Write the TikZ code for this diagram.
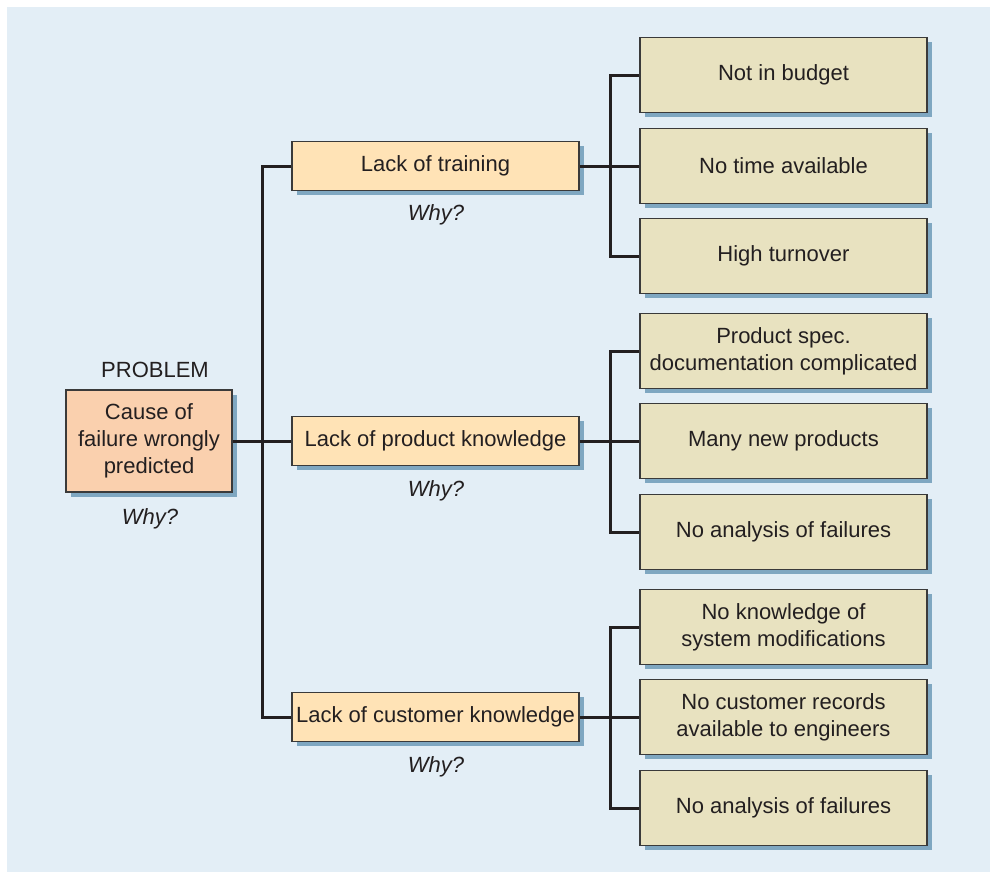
\documentclass[tikz,border=0pt]{standalone}
\usepackage{fontspec}
\setmainfont{Liberation Sans}
\usetikzlibrary{shadows}
\definecolor{bgblue}{HTML}{E3EEF6}
\definecolor{shadowblue}{HTML}{7FA7C1}
\definecolor{peach}{HTML}{FAD0AE}
\definecolor{lightorange}{HTML}{FFE3B6}
\definecolor{beige}{HTML}{E8E2C0}
\definecolor{ink}{HTML}{231F20}
\definecolor{edge}{HTML}{3A3A3A}
\begin{document}
\begin{tikzpicture}[x=1pt,y=-1pt,
  every node/.style={text=ink,font=\fontsize{22}{26.8}\selectfont,inner sep=0pt},
  boxbase/.style={draw=edge,line width=1.8pt,align=center,
    drop shadow={shadow xshift=4.5pt,shadow yshift=-4.5pt,fill=shadowblue,opacity=1}},
  probbox/.style={boxbase,fill=peach,minimum width=166pt,minimum height=102pt},
  midbox/.style={boxbase,fill=lightorange,minimum width=287pt,minimum height=49pt},
  leafbox/.style={boxbase,fill=beige,minimum width=287pt,minimum height=75pt},
  whytext/.style={font=\fontsize{22}{26.8}\selectfont\itshape},
  conn/.style={draw=ink,line width=3pt}]
\useasboundingbox (0,0) rectangle (992,873);
\fill[bgblue] (7,7) rectangle (990,872);

\coordinate (trunkA) at (262,166);
\coordinate (trunkB) at (262,717);
\coordinate (brA1) at (610,75);
\coordinate (brA3) at (610,256);
\coordinate (brB1) at (610,351);
\coordinate (brB3) at (610,532);
\coordinate (brC1) at (610,627);
\coordinate (brC3) at (610,808);

% problem
\node[probbox] (p) at (149,441) {Cause of\\failure wrongly\\predicted};
\node (probtitle) at (155,370) {PROBLEM};
\node[whytext] (pwhy) at (150,519) {Why?};

% middle level
\node[midbox] (m1) at (435.5,166) {Lack of training};
\node[midbox] (m2) at (435.5,441) {Lack of product knowledge};
\node[midbox] (m3) at (435.5,717) {Lack of customer knowledge};
\node[whytext] (w1) at (436,215) {Why?};
\node[whytext] (w2) at (436,491) {Why?};
\node[whytext] (w3) at (436,767) {Why?};

% leaves
\node[leafbox] (a1) at (783.5,75) {Not in budget};
\node[leafbox] (a2) at (783.5,166) {No time available};
\node[leafbox] (a3) at (783.5,256) {High turnover};
\node[leafbox] (b1) at (783.5,351) {Product spec.\\documentation complicated};
\node[leafbox] (b2) at (783.5,441) {Many new products};
\node[leafbox] (b3) at (783.5,532) {No analysis of failures};
\node[leafbox] (c1) at (783.5,627) {No knowledge of\\system modifications};
\node[leafbox] (c2) at (783.5,717) {No customer records\\available to engineers};
\node[leafbox] (c3) at (783.5,808) {No analysis of failures};

% connectors
\draw[conn] (m1.west) -- (trunkA) -- (trunkB) -- (m3.west);
\draw[conn] (p.east) -- (m2.west);

\draw[conn] (a1.west) -- (brA1) -- (brA3) -- (a3.west);
\draw[conn] (m1.east) -- (a2.west);
\draw[conn] (b1.west) -- (brB1) -- (brB3) -- (b3.west);
\draw[conn] (m2.east) -- (b2.west);
\draw[conn] (c1.west) -- (brC1) -- (brC3) -- (c3.west);
\draw[conn] (m3.east) -- (c2.west);
\end{tikzpicture}
\end{document}
